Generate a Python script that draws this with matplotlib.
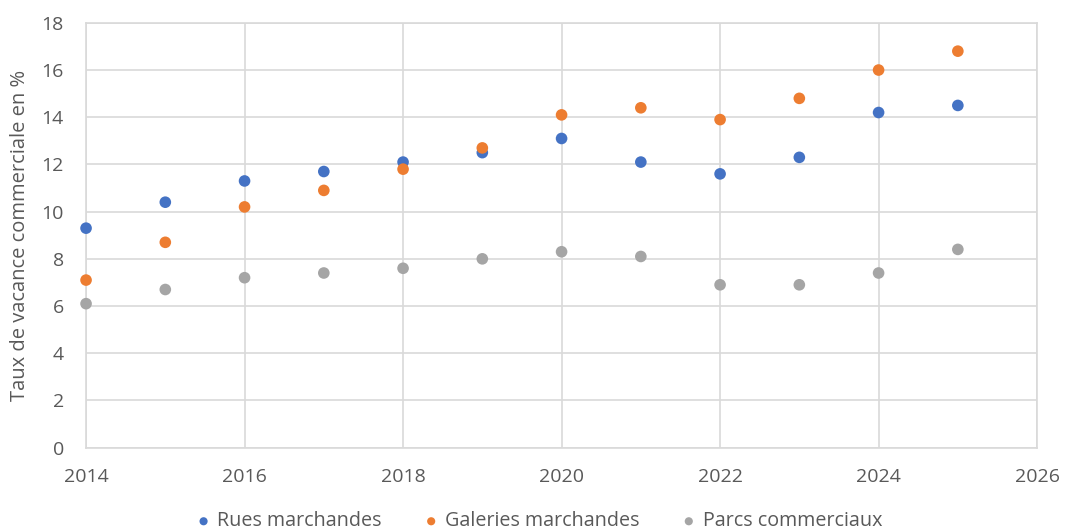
import matplotlib.pyplot as plt

plt.rcParams['font.family'] = ['Open Sans', 'DejaVu Sans']

# Taux de vacance commerciale par type de commerce
years = [2014, 2015, 2016, 2017, 2018, 2019, 2020, 2021, 2022, 2023, 2024, 2025]
rues = [9.3, 10.4, 11.3, 11.7, 12.1, 12.5, 13.1, 12.1, 11.6, 12.3, 14.2, 14.5]
galeries = [7.1, 8.7, 10.2, 10.9, 11.8, 12.7, 14.1, 14.4, 13.9, 14.8, 16.0, 16.8]
parcs = [6.1, 6.7, 7.2, 7.4, 7.6, 8.0, 8.3, 8.1, 6.9, 6.9, 7.4, 8.4]

series = [
    ('Rues marchandes', rues, '#4472C4'),
    ('Galeries marchandes', galeries, '#ED7D31'),
    ('Parcs commerciaux', parcs, '#A5A5A5'),
]

text_color = '#595959'
grid_color = '#D9D9D9'

fig = plt.figure(figsize=(10.65, 5.31), dpi=100)
ax = fig.add_axes([0.0808, 0.157, 0.893, 0.800])

for label, values, color in series:
    ax.scatter(years, values, s=70, color=color, label=label,
               edgecolors='none', zorder=3, clip_on=False)

ax.set_xlim(2014, 2026)
ax.set_ylim(0, 18)
ax.set_xticks(range(2014, 2027, 2))
ax.set_yticks(range(0, 19, 2))

ax.grid(True, color=grid_color, linewidth=1.2, zorder=0)
for side in ax.spines.values():
    side.set_color(grid_color)
    side.set_linewidth(1.2)

ax.tick_params(axis='both', length=0, colors=text_color, labelsize=14)
ax.tick_params(axis='x', pad=15)
ax.tick_params(axis='y', pad=16)

ax.set_ylabel('Taux de vacance commerciale en %', color=text_color,
              fontsize=14.5, labelpad=8)

handles, labels = ax.get_legend_handles_labels()
fig.legend(handles, labels, loc='center', bbox_to_anchor=(0.506, 0.018),
           ncol=3, frameon=False, fontsize=14.2, labelcolor=text_color,
           handlelength=0.8, handletextpad=0.3, columnspacing=2.1,
           markerscale=0.7)

fig.savefig('out.png', dpi=100)
